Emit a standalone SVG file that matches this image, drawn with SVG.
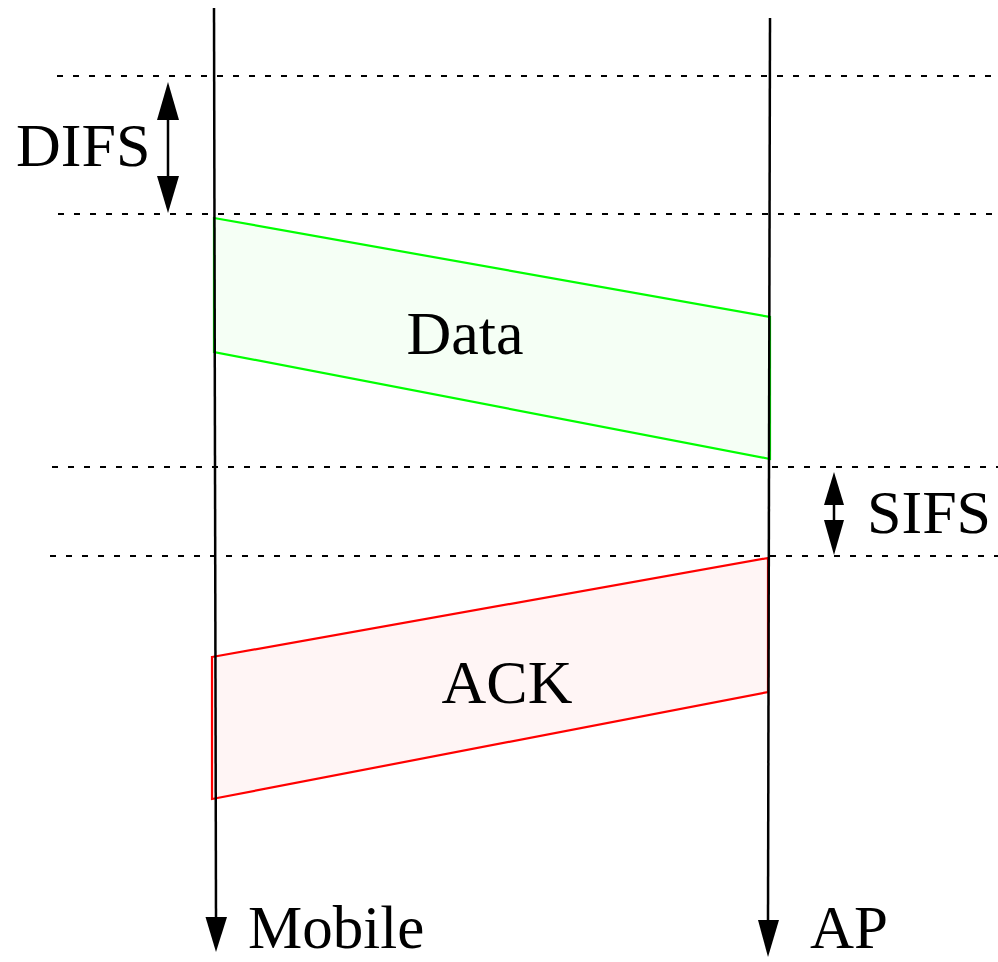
<svg xmlns="http://www.w3.org/2000/svg" width="998" height="962" viewBox="0 0 998 962">
<style>
.t{font-family:"Liberation Serif","Times New Roman",serif;font-size:62px;fill:#000}
.b{font-size:61px}
.dot{stroke:#000;stroke-width:2.2;stroke-dasharray:6 10;fill:none}
.ax{stroke:#000;stroke-width:2.5;fill:none}
.ah{fill:#000;stroke:none}
</style>
<rect width="998" height="962" fill="#fff"/>
<g id="guides">
<line class="dot" x1="57" y1="76" x2="998" y2="76"/>
<line class="dot" x1="58" y1="214" x2="998" y2="214"/>
<line class="dot" x1="52" y1="467" x2="998" y2="467"/>
<line class="dot" x1="50" y1="556" x2="998" y2="556"/>
</g>
<g id="data">
<polygon points="214,218 770,317 770,459 214,352" fill="#f5fff5" stroke="#00ff00" stroke-width="2.2"/>
<text class="t" x="465" y="354" text-anchor="middle">Data</text>
</g>
<g id="ack">
<polygon points="212,657 768,558 768,692 212,799" fill="#fff5f5" stroke="#ff0000" stroke-width="2.2"/>
<text class="t" x="507" y="703" text-anchor="middle">ACK</text>
</g>
<g id="connectors">
<line class="ax" x1="214" y1="8" x2="216" y2="920"/>
<polygon class="ah" points="205.5,917 227,917 216,952"/>
<line class="ax" x1="770" y1="18" x2="768" y2="922"/>
<polygon class="ah" points="758,920 779,920 768,957"/>
<line class="ax" x1="168" y1="115" x2="168" y2="180"/>
<polygon class="ah" points="168,82 157,120 179,120"/>
<polygon class="ah" points="168,213 157,176 179,176"/>
<line class="ax" x1="834" y1="500" x2="834" y2="525"/>
<polygon class="ah" points="834,472 824,505 844,505"/>
<polygon class="ah" points="834,555 824,520 844,520"/>
</g>
<g id="mobile"><text class="t b" x="248" y="948">Mobile</text></g>
<g id="ap"><text class="t b" x="810" y="948">AP</text></g>
<g id="difs"><text class="t" x="16" y="166">DIFS</text></g>
<g id="sifs"><text class="t" x="867" y="533">SIFS</text></g>
</svg>
